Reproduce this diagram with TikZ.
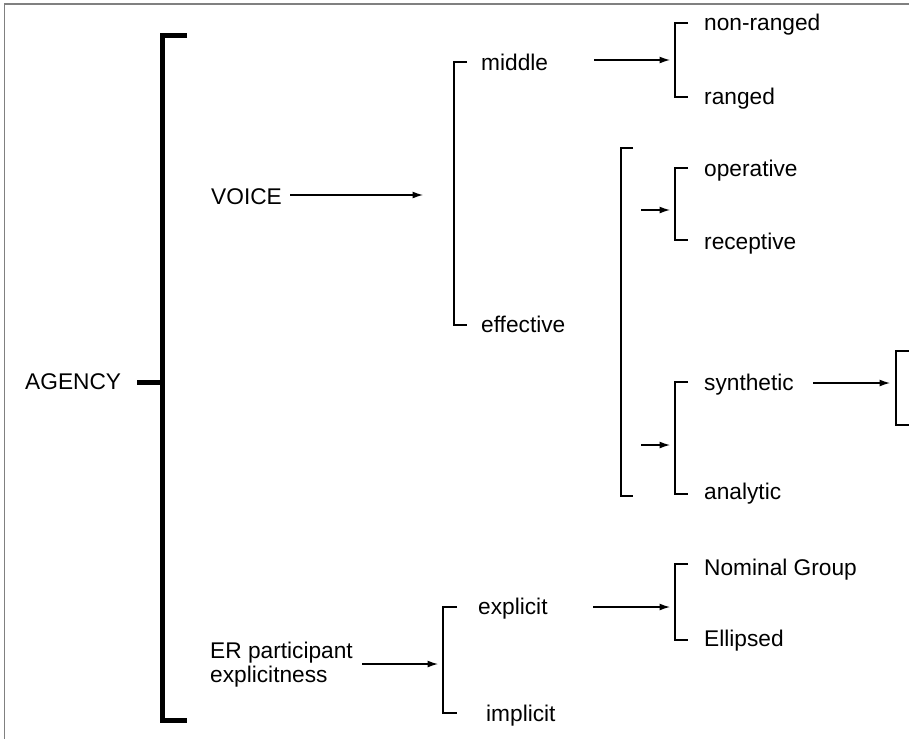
\documentclass[tikz,border=0pt]{standalone}
\usepackage{fontspec}
\setmainfont{Liberation Sans}
\usetikzlibrary{arrows.meta}
\begin{document}
\begin{tikzpicture}[x=1pt,y=-1pt,
  lbl/.style={anchor=west, inner sep=0pt, font=\fontsize{22.7}{23.5}\selectfont, text height=16pt, text depth=0pt},
  arr/.style={line width=1.3pt, -{Latex[length=10.5pt,width=7pt]}},
  brk/.style={line width=2.6pt, line join=miter, line cap=butt},
  thickbrk/.style={line width=5pt, line join=miter, line cap=butt},
  frame/.style={line width=1.5pt, draw=black!50}
]
\useasboundingbox (0,0) rectangle (909,739);
% frame
\draw[frame] (909,4) -- (4.5,4) -- (4.5,739);

% labels
\node[lbl] (agency) at (25,381) {AGENCY};
\node[lbl] (voice) at (211,196) {VOICE};
\node[lbl] (middle) at (481,62) {middle};
\node[lbl] (effective) at (481,324) {effective};
\node[lbl] (nonranged) at (704,22) {non-ranged};
\node[lbl] (ranged) at (704,96) {ranged};
\node[lbl] (operative) at (704,168) {operative};
\node[lbl] (receptive) at (704,241) {receptive};
\node[lbl] (synthetic) at (704,382) {synthetic};
\node[lbl] (analytic) at (704,491) {analytic};
\node[anchor=north west, inner sep=0pt, align=left, font=\fontsize{22.7}{23.5}\selectfont] (er) at (210,642) {ER participant\\explicitness};
\node[lbl] (explicit) at (478,606) {explicit};
\node[lbl] (implicit) at (486,713) {implicit};
\node[lbl] (nominal) at (704,567) {Nominal Group};
\node[lbl] (ellipsed) at (704,638) {Ellipsed};

% main bracket
\coordinate (agencystub) at (137,382);
\coordinate (agencybrk) at (162.5,382);
\draw[thickbrk] (187,35.5) -- (162.5,35.5) -- (162.5,720) -- (187,720);
\draw[thickbrk] (agencystub) -- (agencybrk);

% brackets
\draw[brk] (467,62) -- (454,62) -- (454,325) -- (467,325);
\draw[brk] (688,23) -- (675,23) -- (675,97) -- (688,97);
\draw[brk] (633,148) -- (621,148) -- (621,496) -- (633,496);
\draw[brk] (688,168) -- (675,168) -- (675,240) -- (688,240);
\draw[brk] (688,382) -- (675,382) -- (675,494) -- (688,494);
\draw[brk] (912,351) -- (896,351) -- (896,425) -- (912,425);
\draw[brk] (457,607) -- (443,607) -- (443,713) -- (457,713);
\draw[brk] (688,564) -- (675,564) -- (675,640) -- (688,640);

% arrow coordinates
\coordinate (voiceout) at (290,195);
\coordinate (midbrk) at (423,195);
\coordinate (middleout) at (594,60);
\coordinate (nrbrk) at (670,60);
\coordinate (effa) at (641,210);
\coordinate (opbrk) at (670,210);
\coordinate (effb) at (641,445);
\coordinate (synbrk) at (670,445);
\coordinate (synout) at (813,383);
\coordinate (finbrk) at (890,383);
\coordinate (erout) at (362,664);
\coordinate (expbrk) at (438,664);
\coordinate (expout) at (593,607);
\coordinate (nombrk) at (670,607);

\draw[arr] (voiceout) -- (midbrk);
\draw[arr] (middleout) -- (nrbrk);
\draw[arr] (effa) -- (opbrk);
\draw[arr] (effb) -- (synbrk);
\draw[arr] (synout) -- (finbrk);
\draw[arr] (erout) -- (expbrk);
\draw[arr] (expout) -- (nombrk);
\end{tikzpicture}
\end{document}
